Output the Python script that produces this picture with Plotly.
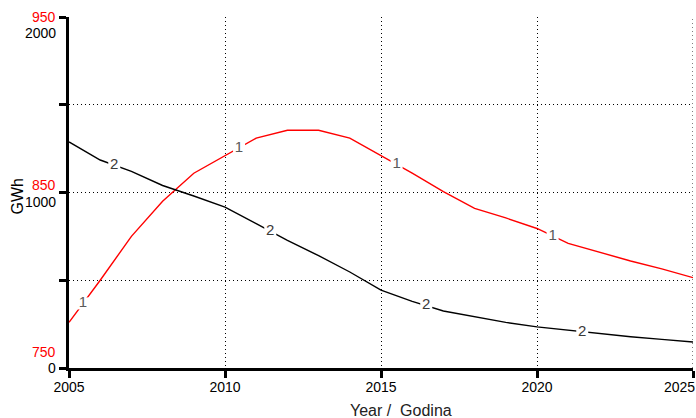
import numpy as np
import plotly.graph_objects as go

# Annual values, GWh
years = list(range(2005, 2026))
series_1 = [776, 800, 825, 845, 861, 871, 881, 885.5, 885.5, 881, 871,
            861, 850.5, 841, 835.5, 829.5, 821, 816, 811, 806.5, 801.5]
series_2 = [1288, 1185, 1120, 1040, 980, 917, 822, 727, 640, 547, 444,
            380, 325, 292, 260, 234, 215, 195, 178, 163, 148]

# Where the curve numbers sit along each line
label_x_1 = [2005.45, 2010.45, 2015.5, 2020.5]
label_x_2 = [2006.45, 2011.45, 2016.45, 2021.45]

red_ticks = [950, 850, 750]
black_ticks = [2000, 1000, 0]
x_ticks = [2005, 2010, 2015, 2020, 2025]
x_tick_text = ["2005", "2010", "2015", "2020", ""]  # last one drawn flush right below

FONT = "Liberation Sans, Arial, sans-serif"
RED = "#ff0000"
GRID_DASH = "1px,3px"

fig = go.Figure()

fig.add_trace(go.Scatter(x=years, y=series_1, mode="lines",
                         line=dict(color=RED, width=1.4), yaxis="y",
                         showlegend=False, hoverinfo="skip"))
fig.add_trace(go.Scatter(x=years, y=series_2, mode="lines",
                         line=dict(color="#000000", width=1.4), yaxis="y2",
                         showlegend=False, hoverinfo="skip"))

# Curve numbers with a white patch that breaks the line behind them
fig.add_trace(go.Scatter(x=label_x_1, y=list(np.interp(label_x_1, years, series_1)),
                         mode="markers+text", text=["1"] * len(label_x_1),
                         textposition="middle center",
                         textfont=dict(family=FONT, size=15, color="#5a5a5a"),
                         marker=dict(symbol="square", size=12, color="white"),
                         yaxis="y", showlegend=False, hoverinfo="skip"))
fig.add_trace(go.Scatter(x=label_x_2, y=list(np.interp(label_x_2, years, series_2)),
                         mode="markers+text", text=["2"] * len(label_x_2),
                         textposition="middle center",
                         textfont=dict(family=FONT, size=15, color="#3a3a3a"),
                         marker=dict(symbol="square", size=12, color="white"),
                         yaxis="y2", showlegend=False, hoverinfo="skip"))

fig.update_layout(
    width=696, height=418,
    margin=dict(l=69, r=3, t=17, b=50),
    paper_bgcolor="white", plot_bgcolor="white",
    font=dict(family=FONT, size=14, color="#000"),
    xaxis=dict(range=[2005, 2025], tickvals=x_ticks, ticktext=x_tick_text,
               ticks="outside", ticklen=7, tickwidth=3, tickcolor="#000",
               showline=True, linewidth=3, linecolor="#000",
               showgrid=True, gridcolor="#000", gridwidth=1, griddash=GRID_DASH,
               zeroline=False, automargin=False, ticklabelstandoff=-3,
               tickfont=dict(family=FONT, size=14, color="#000")),
    yaxis=dict(range=[750, 950], tickvals=[750, 800, 850, 900, 950],
               ticks="outside", ticklen=7, tickwidth=3, tickcolor="#000",
               showline=True, linewidth=3, linecolor="#000",
               showgrid=True, gridcolor="#000", gridwidth=1, griddash=GRID_DASH,
               showticklabels=False, zeroline=False, automargin=False),
    yaxis2=dict(range=[0, 2000], overlaying="y", side="left",
                showgrid=False, showline=False, showticklabels=False,
                zeroline=False, ticks=""),
)

# Dotted grid line along the right edge of the plot
fig.add_shape(type="line", xref="x", yref="paper", x0=2025, x1=2025, y0=0, y1=1,
              line=dict(color="#000", width=1, dash=GRID_DASH), layer="below")

# Last year label, kept inside the right edge
fig.add_annotation(x=1, xref="paper", y=0, yref="paper", text=str(x_ticks[-1]),
                   showarrow=False, xanchor="right", yanchor="top",
                   xshift=4, yshift=-9,
                   font=dict(family=FONT, size=14, color="#000"))

# Stacked value labels for the two scales on the left
red_shift = [0, 8, 16]
black_shift = [-16, -9, 0]
for v, s in zip(red_ticks, red_shift):
    fig.add_annotation(x=0, xref="paper", y=v, yref="y", text=str(v),
                       showarrow=False, xanchor="right", yanchor="middle",
                       xshift=-11, yshift=s,
                       font=dict(family=FONT, size=14, color=RED))
for v, s in zip(black_ticks, black_shift):
    fig.add_annotation(x=0, xref="paper", y=v, yref="y2", text=str(v),
                       showarrow=False, xanchor="right", yanchor="middle",
                       xshift=-11, yshift=s,
                       font=dict(family=FONT, size=14, color="#000"))

fig.add_annotation(x=0, xref="paper", y=0.5, yref="paper", text="GWh",
                   showarrow=False, textangle=-90, xanchor="center", yanchor="middle",
                   xshift=-52, yshift=-4,
                   font=dict(family=FONT, size=16, color="#000"))
fig.add_annotation(x=0.532, xref="paper", y=0, yref="paper", text="Year /  Godina",
                   showarrow=False, xanchor="center", yanchor="top", yshift=-32,
                   font=dict(family=FONT, size=16, color="#222"))

fig.write_html("out.html")
